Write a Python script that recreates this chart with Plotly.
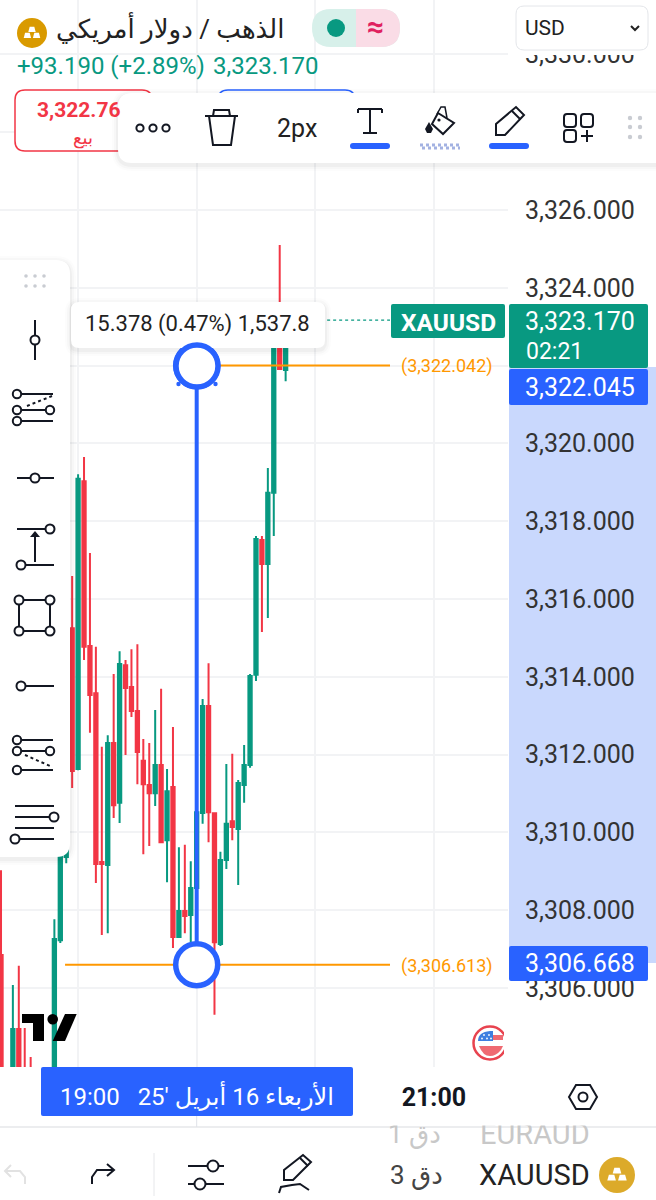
import plotly.graph_objects as go

# Candles (bar index on the 1 min axis)
bar_idx = [0, 2, 3, 4, 5, 9, 10, 11, 12, 13, 14, 15, 16, 17, 18, 19, 20, 21, 22, 23, 24, 25, 26,
           27, 28, 29, 30, 31, 32, 33, 34, 35, 36, 37, 38, 39, 40, 41, 42, 43, 44, 45, 46, 47, 48]
opens = [3306.85, 3303.38, 3304.95, 3303.9, 3303.9, 3303.4, 3307.23, 3309.37, 3315.25, 3311.63,
         3319.03, 3314.79, 3313.58, 3309.24, 3309.16, 3312.30, 3310.76, 3314.30, 3313.74, 3313.12,
         3311.84, 3311.22, 3311.01, 3311.73, 3309.80, 3311.17, 3307.31, 3307.98, 3307.88, 3308.57,
         3310.50, 3313.25, 3310.49, 3307.13, 3309.29, 3310.29, 3310.09, 3311.22, 3311.73, 3314.05,
         3317.52, 3316.90, 3318.73, 3322.92, 3321.89]
highs = [3309.03, 3306.08, 3306.57, 3304.97, 3304.23, 3307.77, 3310.9, 3310.8, 3316.59, 3319.21,
         3319.65, 3317.18, 3314.77, 3312.20, 3312.50, 3314.07, 3314.66, 3314.43, 3314.71, 3314.84,
         3312.40, 3312.30, 3313.15, 3313.69, 3311.63, 3312.71, 3309.62, 3309.68, 3309.26, 3310.83,
         3313.43, 3314.35, 3310.50, 3309.50, 3311.76, 3312.02, 3311.35, 3312.25, 3314.07, 3317.62,
         3317.62, 3319.37, 3323.04, 3325.10, 3323.30]
lows = [3303.2, 3303.2, 3303.6, 3303.4, 3303.4, 3303.2, 3307.16, 3309.21, 3311.14, 3311.6,
        3314.43, 3312.56, 3308.70, 3307.36, 3307.41, 3310.37, 3310.24, 3311.99, 3312.97, 3311.24,
        3309.44, 3309.65, 3310.68, 3309.74, 3308.72, 3307.03, 3307.29, 3307.41, 3307.18, 3308.39,
        3310.22, 3309.75, 3305.31, 3307.08, 3309.06, 3309.80, 3308.65, 3310.76, 3311.66, 3313.89,
        3315.15, 3315.51, 3317.62, 3321.90, 3321.60]
closes = [3303.38, 3304.95, 3303.7, 3303.5, 3303.5, 3307.26, 3310.58, 3310.45, 3311.58, 3319.09,
          3314.77, 3313.53, 3309.19, 3309.19, 3312.30, 3310.70, 3314.33, 3313.71, 3313.12, 3312.07,
          3311.24, 3311.01, 3311.73, 3309.75, 3311.06, 3307.31, 3307.98, 3307.85, 3308.57, 3310.52,
          3313.25, 3310.52, 3307.18, 3309.29, 3310.22, 3310.14, 3311.27, 3311.73, 3314.02, 3317.54,
          3316.90, 3318.73, 3322.92, 3321.91, 3323.17]

price_ticks = [3306, 3308, 3310, 3312, 3314, 3316, 3318, 3320, 3322, 3324, 3326, 3328, 3330]
# 3,322 and 3,328 sit behind the price tags and the tool bar
price_labels = ['3,306.000', '3,308.000', '3,310.000', '3,312.000', '3,314.000', '3,316.000', '3,318.000',
                '3,320.000', '', '3,324.000', '3,326.000', '', '3,330.000']
time_idx = [13, 33, 53, 73]
time_labels = ['', '', '', '<b>21:00</b>']

measure_top = 3322.0
measure_bottom = 3306.6
measure_bar = 33
last_price = 3323.17

GREEN = '#089981'
RED = '#f23645'
BLUE = '#2962ff'
ORANGE = '#ff9800'
INK = '#131722'
GRID = '#f2f3f5'
FONT = 'Roboto, Noto Sans, DejaVu Sans'

W, H = 656, 1200
PLOT_R, PLOT_B = 508, 1067
shapes = []
annots = []


def fx(x):
    return x / W


def fy(y):
    return 1 - y / H


def add_path(d, fill=None, color=None, lw=0, layer='above'):
    shapes.append(dict(type='path', path=d, xref='paper', yref='paper', layer=layer,
                       fillcolor=fill or 'rgba(0,0,0,0)',
                       line=dict(color=color or 'rgba(0,0,0,0)', width=lw)))


def rect(x0, y0, x1, y1, fill=None, color=None, lw=0, r=0, layer='above'):
    a, b, c, d = fx(x0), fy(y0), fx(x1), fy(y1)
    rx, ry = r / W, r / H
    p = (f'M{a+rx},{b} L{c-rx},{b} Q{c},{b} {c},{b-ry} L{c},{d+ry} Q{c},{d} {c-rx},{d} '
         f'L{a+rx},{d} Q{a},{d} {a},{d+ry} L{a},{b-ry} Q{a},{b} {a+rx},{b} Z')
    add_path(p, fill, color, lw, layer)


def poly(pts, fill=None, color=INK, lw=2, close=True):
    p = 'M' + ' L'.join(f'{fx(x)},{fy(y)}' for x, y in pts) + (' Z' if close else '')
    add_path(p, fill, color, lw)


def seg(x0, y0, x1, y1, color=INK, lw=2, dash=None):
    shapes.append(dict(type='line', xref='paper', yref='paper', x0=fx(x0), y0=fy(y0), x1=fx(x1), y1=fy(y1),
                       layer='above', line=dict(color=color, width=lw, dash=dash or 'solid')))


def dot(cx, cy, r, fill='white', color=INK, lw=2):
    shapes.append(dict(type='circle', xref='paper', yref='paper', layer='above',
                       x0=fx(cx - r), y0=fy(cy + r), x1=fx(cx + r), y1=fy(cy - r),
                       fillcolor=fill, line=dict(color=color or 'rgba(0,0,0,0)', width=lw)))


def text(x, y, s, size, color=INK, anchor='center', **kw):
    annots.append(dict(x=fx(x), y=fy(y), xref='paper', yref='paper', text=s, showarrow=False,
                       xanchor=anchor, yanchor='middle', font=dict(family=FONT, size=size, color=color), **kw))


def shadow(x0, y0, x1, y1, r):
    for grow, a in [(6, 0.012), (4, 0.02), (2, 0.03)]:
        rect(x0 - grow, y0 - grow + 2, x1 + grow, y1 + grow + 2, fill=f'rgba(0,0,0,{a})', r=r + grow)


def bullion(cx, cy, s, color='white'):
    for dx, dy in [(0, -s), (-s, s * 0.3), (s, s * 0.3)]:
        poly([(cx + dx - s * 0.8, cy + dy + s * 0.55), (cx + dx - s * 0.5, cy + dy - s * 0.55),
              (cx + dx + s * 0.5, cy + dy - s * 0.55), (cx + dx + s * 0.8, cy + dy + s * 0.55)],
             fill=color, color=None, lw=0)


# Price scale band between the two measure prices
rect(509, 367, 656, 963, fill='#c9d8fd', layer='below')

# Clip of the scale under the header
rect(PLOT_R, 0, W, 55, fill='white')

# Header
dot(32, 33, 15, fill='#d99a00', color=None, lw=0)
bullion(32, 34, 4.6)
text(170, 28, 'الذهب / دولار أمريكي', 26, color='#222')
rect(312, 9, 400, 47, fill='#d7f0ea', r=19)
rect(356, 9, 400, 47, fill='#fadce6', r=19)
rect(356, 9, 370, 47, fill='#fadce6')
dot(336, 28, 9, fill=GREEN, color=None, lw=0)
text(376, 27, '<b>≈</b>', 30, color='#e0215f')
rect(516, 6, 648, 50, fill='white', color='#e4e6ea', lw=1, r=8)
text(523, 28, 'USD', 21, color='#222', anchor='left')
poly([(631, 26), (635, 30), (639, 26)], color='#222', lw=2, close=False)
text(15, 66, '+93.190 (+2.89%)', 24, color=GREEN, anchor='left')
text(211, 66, '3,323.170', 24, color=GREEN, anchor='left')

# Sell / buy boxes behind the tool bar
rect(15, 90, 152, 151, fill='white', color=RED, lw=1.5, r=10)
rect(218, 90, 355, 151, fill='white', color=BLUE, lw=1.5, r=10)
text(35, 110, '<b>3,322.76</b>', 21, color=RED, anchor='left')
text(83, 138, 'بيع', 18, color=RED)

# Top drawing tool bar
shadow(118, 93, 668, 163, 14)
rect(118, 93, 668, 163, fill='white', r=14)
for cx in (140, 153, 166):
    dot(cx, 128, 3.6)
poly([(209, 116), (213, 145), (231, 145), (235, 116)], close=False)
seg(205, 116, 238, 116)
poly([(213, 116), (214, 110), (229, 110), (230, 116)], close=False)
text(297, 128, '2px', 25, color='#222')
seg(358, 109, 382, 109)
seg(358, 109, 358, 113)
seg(382, 109, 382, 113)
seg(370, 109, 370, 133)
seg(363, 133, 377, 133)
rect(350, 143, 390, 149, fill=BLUE, r=3)
poly([(438, 113), (454, 123), (443, 134), (432, 124)], lw=2)
poly([(437, 114), (441, 107), (445, 107), (447, 118)], lw=1.5, close=False)
dot(439, 120, 1.6, fill=INK, color=None, lw=0)
poly([(429, 122), (433, 129), (431, 133), (427, 133), (425, 129)], fill=INK, color=None, lw=0)
seg(420, 145, 460, 145, color='#a3b2e2', lw=3, dash='dot')
seg(422, 148, 460, 148, color='#a3b2e2', lw=3, dash='dot')
poly([(496, 135), (496, 124), (516, 107), (524, 115), (505, 135)], lw=2)
seg(512, 111, 520, 119, lw=2)
rect(489, 143, 529, 149, fill=BLUE, r=3)
rect(564, 114, 576, 127, color=INK, lw=2, r=3)
rect(581, 114, 593, 127, color=INK, lw=2, r=3)
rect(564, 130, 576, 142, color=INK, lw=2, r=3)
seg(581, 136, 593, 136)
seg(587, 130, 587, 142)
for cx in (630, 640):
    for cy in (118, 127, 137):
        dot(cx, cy, 2.2, fill='#c9ccd2', color=None, lw=0)

# Left tool bar
shadow(-20, 260, 70, 857, 14)
rect(-20, 260, 70, 857, fill='white', r=14)
for cx in (26, 35, 44):
    for cy in (276, 286):
        dot(cx, cy, 1.8, fill='#c9ccd2', color=None, lw=0)
seg(35, 320, 35, 360)
dot(35, 340, 4.5)
for y0, x0, x1 in [(394, 17, 53), (410, 17, 50), (421, 17, 53)]:
    seg(x0, y0, x1, y0)
seg(27, 406, 52, 396, lw=2, dash='dot')
for cx, cy in [(17, 394), (17, 410), (50, 410), (17, 421)]:
    dot(cx, cy, 4.2)
seg(17, 478, 54, 478)
dot(35, 478, 4.5)
seg(17, 529, 50, 529)
seg(21, 565, 54, 565)
seg(35, 562, 35, 536)
poly([(30, 537), (35, 531), (40, 537)], fill=INK, color=None, lw=0)
dot(50, 529, 4.5)
dot(21, 565, 4.5)
rect(19, 600, 50, 631, color=INK, lw=2)
for cx, cy in [(19, 600), (50, 600), (19, 631), (50, 631)]:
    dot(cx, cy, 4.5)
seg(21, 686, 54, 686)
dot(21, 686, 4.5)
for y0, x0, x1 in [(740, 17, 53), (751, 17, 50), (770, 17, 53)]:
    seg(x0, y0, x1, y0)
seg(25, 755, 50, 766, lw=2, dash='dot')
for cx, cy in [(17, 740), (17, 751), (50, 751), (17, 770)]:
    dot(cx, cy, 4.2)
for y0 in (806, 817, 828, 839):
    seg(15, y0, 54, y0)
dot(54, 817, 4.5)
dot(15, 839, 4.5)

# TradingView mark
poly([(22, 1014), (44, 1014), (44, 1041), (33, 1041), (33, 1023), (22, 1023)], fill='#000', color=None, lw=0)
dot(52.7, 1019.3, 5.3, fill='#000', color=None, lw=0)
poly([(65, 1014), (76.7, 1014), (65, 1041), (52.7, 1041)], fill='#000', color=None, lw=0)

# Event flag
dot(490, 1043, 16.5, fill='white', color='#e8434f', lw=2.5)
rect(504, 1030, 516, 1056, fill='white')
add_path(f'M{fx(478)},{fy(1041)} Q{fx(478)},{fy(1032)} {fx(490)},{fy(1031)} L{fx(493)},{fy(1031)} '
         f'L{fx(493)},{fy(1041)} Z', fill='#3f7fe0')
for cx, cy in [(484, 1035), (489, 1035), (482, 1038.5), (487, 1038.5), (491, 1038.5)]:
    dot(cx, cy, 0.9, fill='white', color=None, lw=0)
rect(493, 1035, 503, 1040, fill='#ef6a72')
add_path(f'M{fx(479)},{fy(1046)} L{fx(503)},{fy(1046)} L{fx(501)},{fy(1050)} Q{fx(496)},{fy(1056)} {fx(490)},{fy(1056)} '
         f'Q{fx(483)},{fy(1056)} {fx(479)},{fy(1046)} Z', fill='#ef6a72')

# Measure tooltip and price tags
shadow(71, 302, 325, 348, 8)
rect(71, 302, 325, 348, fill='white', r=8)
text(197, 324, '15.378 (0.47%) 1,537.8', 22, color='#222')
dot(197, 366, 21, fill='white', color=BLUE, lw=5.5)
dot(178.5, 384, 2.2, fill=BLUE, color=None, lw=0)
dot(215.5, 384, 2.2, fill=BLUE, color=None, lw=0)
rect(391, 304, 505, 338, fill=GREEN, r=2)
text(448, 322, '<b>XAUUSD</b>', 24.5, color='white')
rect(509, 304, 648, 368, fill=GREEN, r=2)
text(580, 321, '3,323.170', 25, color='white')
text(524, 351, '02:21', 23, color='white', anchor='left')
rect(509, 369, 648, 405, fill=BLUE, r=2)
text(580, 387, '3,322.045', 25, color='white')
rect(509, 946, 648, 981, fill=BLUE, r=2)
text(580, 963, '3,306.668', 25, color='white')
text(447, 366, '(3,322.042)', 18, color=ORANGE)
text(447, 966, '(3,306.613)', 18, color=ORANGE)

# Time axis tag
rect(41, 1067, 353, 1116, fill=BLUE, r=2)
text(197, 1096, 'الأربعاء 16 أبريل \'25\u00a0\u00a0\u00a019:00', 24, color='white')
poly([(569, 1097), (576, 1085), (590, 1085), (597, 1097), (590, 1109), (576, 1109)], lw=2)
dot(583, 1097, 4.5)

# Bottom bar
seg(0, 1127, W, 1127, color='#e6e7ea', lw=1.5)
seg(196.7, 1116, 196.7, 1127, color='#dfe2e8', lw=1)
text(535, 1134, 'EURAUD', 29, color='#c8c8c8')
text(414, 1134, '1 دق', 26, color='#c8c8c8')
annots.append(dict(x=fx(490), y=fy(1126), xref='paper', yref='paper', text=' ', showarrow=False, width=230, height=6,
                   bgcolor='white', font=dict(size=6), xanchor='center', yanchor='bottom', borderpad=0))
dot(617, 1175, 18, fill='#dcaa2a', color=None, lw=0)
bullion(617, 1176, 5.4)
text(534, 1175, 'XAUUSD', 29, color='#222')
text(416, 1175, '3 دق', 26, color='#444')
seg(154, 1153, 154, 1196, color='#e6e7ea', lw=1)
seg(188, 1166, 224, 1166)
seg(188, 1184, 224, 1184)
dot(213, 1166, 5.5)
dot(200, 1184, 5.5)
poly([(284, 1180), (284, 1170), (303, 1155), (311, 1162), (293, 1180)], lw=2)
seg(300, 1158, 308, 1166, lw=2)
poly([(279, 1193), (281, 1187), (292, 1185), (300, 1184), (309, 1190)], lw=2, close=False)
poly([(92, 1184), (92, 1177), (97, 1170), (114, 1170)], lw=2, close=False)
poly([(107, 1164), (114, 1170), (107, 1176)], lw=2, close=False)
poly([(25, 1184), (25, 1177), (20, 1171), (6, 1171)], color='#e2e2e2', lw=2, close=False)
poly([(11, 1165), (5, 1171), (11, 1177)], color='#e2e2e2', lw=2, close=False)

fig = go.Figure()
fig.add_trace(go.Candlestick(
    x=bar_idx, open=opens, high=highs, low=lows, close=closes,
    increasing=dict(line=dict(color=GREEN, width=2), fillcolor=GREEN),
    decreasing=dict(line=dict(color=RED, width=2), fillcolor=RED),
    whiskerwidth=0, showlegend=False, hoverinfo='skip'
))
# Measure levels
fig.add_trace(go.Scatter(x=[measure_bar, 65.6], y=[measure_top, measure_top], mode='lines',
                         line=dict(color=ORANGE, width=2), showlegend=False))
fig.add_trace(go.Scatter(x=[10.8, 65.6], y=[measure_bottom, measure_bottom], mode='lines',
                         line=dict(color=ORANGE, width=2), showlegend=False))
fig.add_trace(go.Scatter(x=[55, 65.6], y=[last_price, last_price], mode='lines',
                         line=dict(color=GREEN, width=1.2, dash='dot'), showlegend=False))
fig.add_trace(go.Scatter(x=[measure_bar, measure_bar], y=[measure_top, measure_bottom], mode='lines+markers',
                         line=dict(color=BLUE, width=4),
                         marker=dict(size=42, color='white', line=dict(color=BLUE, width=5.5)),
                         cliponaxis=False, showlegend=False))

fig.update_layout(
    width=W, height=H, autosize=False,
    margin=dict(l=0, r=0, t=0, b=0),
    paper_bgcolor='white', plot_bgcolor='white',
    boxgap=0.2,
    shapes=shapes, annotations=annots,
    showlegend=False,
    xaxis=dict(domain=[0, PLOT_R / W], range=[-0.17, 85.5], rangeslider=dict(visible=False),
               tickvals=time_idx, ticktext=time_labels, showgrid=True, gridcolor=GRID, gridwidth=1.5,
               ticks='outside', ticklen=8, tickcolor='rgba(0,0,0,0)', zeroline=False, showline=False,
               tickfont=dict(family=FONT, size=25, color=INK)),
    yaxis=dict(domain=[1 - PLOT_B / H, 1], range=[3303.97, 3331.398], side='right', anchor='x',
               tickvals=price_ticks, ticktext=price_labels, showgrid=True, gridcolor=GRID, gridwidth=1.5,
               ticks='outside', ticklen=11, tickcolor='rgba(0,0,0,0)', zeroline=False, showline=False,
               tickfont=dict(family=FONT, size=25, color='#333')),
)

fig.write_html("out.html", post_script="document.body.style.margin='0';document.body.style.overflow='hidden';",
               config=dict(displayModeBar=False))
